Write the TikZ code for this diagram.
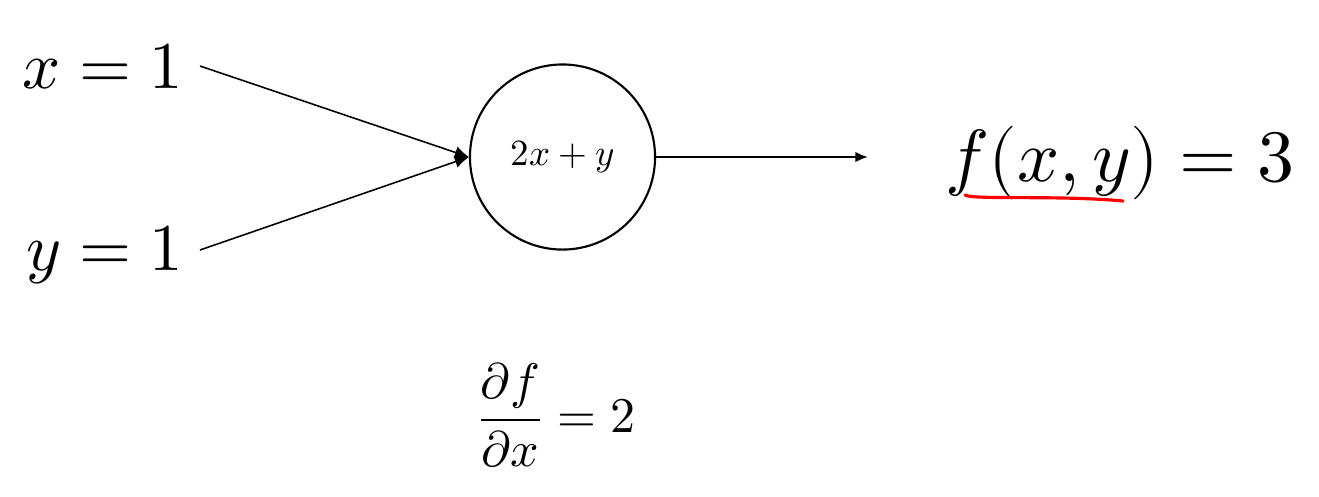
\documentclass[tikz,border=0pt]{standalone}
\usepackage{unicode-math}
\usetikzlibrary{arrows.meta}
\begin{document}
\begin{tikzpicture}[x=0.01cm,y=-0.01cm,
  big/.style={font=\fontsize{19}{23}\selectfont, inner sep=0pt},
  inarrow/.style={line width=0.45pt, -{Latex[length=4pt,width=3.6pt]}},
  outarrow/.style={line width=0.6pt, -{Latex[length=3.6pt,width=3pt]}},
  neuron/.style={circle, draw, line width=0.6pt, minimum size=1.85cm, inner sep=0pt, font=\fontsize{10.5}{12}\selectfont}]
\useasboundingbox (0,0) rectangle (1319,496);
\node[big, anchor=base east] (x1) at (184,88) {$x=1$};
\node[big, anchor=base east] (y1) at (184,270) {$y=1$};
\coordinate (xs) at (200,66);
\coordinate (ys) at (200,250);
\node[neuron] (g) at (562.5,157) {$2x+y$};
\coordinate (out) at (868,157);
\node[big, font=\fontsize{21}{25}\selectfont, anchor=base west] (f) at (945,181) {$f(x,y)=3$};
\node[big, font=\fontsize{14.2}{17}\selectfont, anchor=base west] (d) at (476,432) {$\displaystyle\frac{\partial f}{\partial x}=2$};
\draw[inarrow] (xs) -- (g.west);
\draw[inarrow] (ys) -- (g.west);
\draw[outarrow] (g.east) -- (out);
\draw[red, line width=0.9pt, line cap=round] (965,195) .. controls (972,200) and (1060,195) .. (1123,201);
\end{tikzpicture}
\end{document}
